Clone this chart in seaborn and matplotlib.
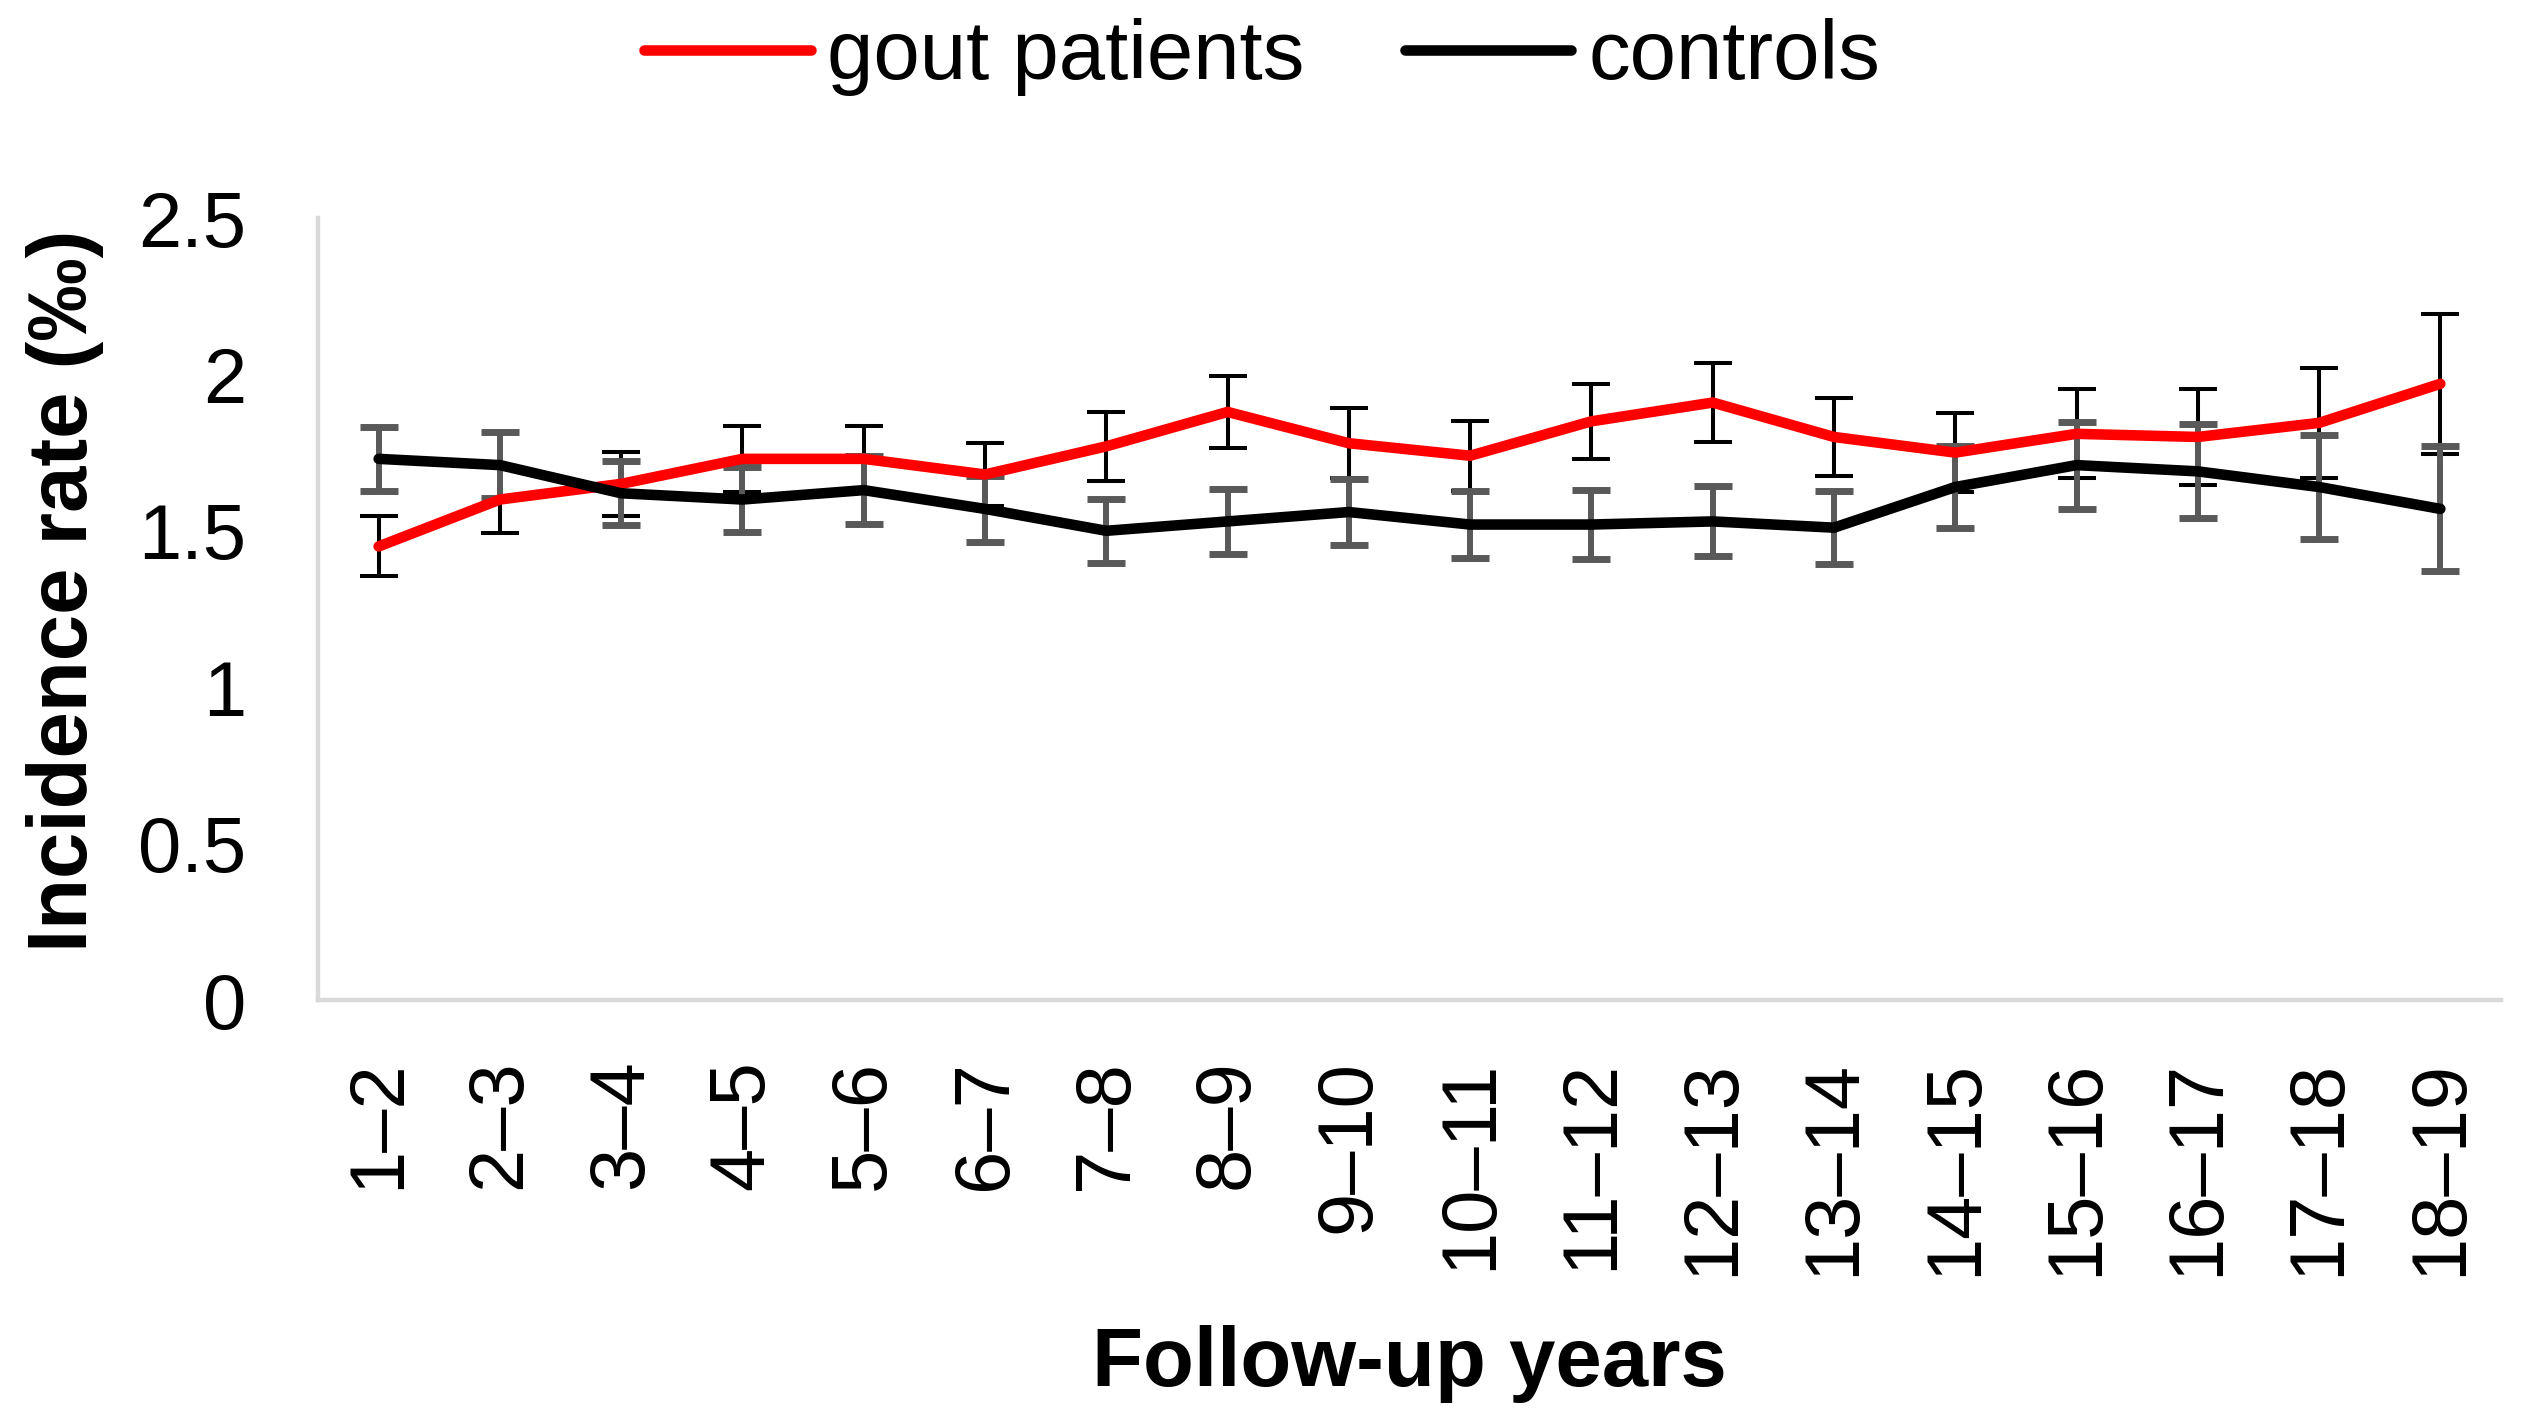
import matplotlib
matplotlib.use("Agg")
import matplotlib.pyplot as plt
import seaborn as sns
import pandas as pd
import numpy as np

# ---- data ----
periods = ["1–2", "2–3", "3–4", "4–5", "5–6", "6–7", "7–8", "8–9", "9–10",
           "10–11", "11–12", "12–13", "13–14", "14–15", "15–16", "16–17",
           "17–18", "18–19"]
gout = [1.45, 1.60, 1.65, 1.73, 1.73, 1.68, 1.77, 1.88, 1.78, 1.74, 1.85,
        1.91, 1.80, 1.75, 1.81, 1.80, 1.845, 1.97]
gout_err = [0.096, 0.106, 0.102, 0.105, 0.106, 0.102, 0.110, 0.114, 0.112,
            0.112, 0.120, 0.125, 0.126, 0.126, 0.142, 0.152, 0.176, 0.224]
controls = [1.73, 1.71, 1.62, 1.60, 1.63, 1.57, 1.50, 1.53, 1.56, 1.52, 1.52,
            1.53, 1.51, 1.64, 1.71, 1.69, 1.64, 1.57]
controls_err = [0.103, 0.105, 0.103, 0.103, 0.108, 0.105, 0.103, 0.105, 0.106,
                0.107, 0.109, 0.112, 0.117, 0.130, 0.139, 0.150, 0.166, 0.200]
series_names = ["gout patients", "controls"]
yticks = [0, 0.5, 1, 1.5, 2, 2.5]
ytick_labels = ["0", "0.5", "1", "1.5", "2", "2.5"]

sns.set_theme(style="white")
plt.rcParams["font.family"] = ["Liberation Sans", "DejaVu Sans"]
plt.rcParams["text.color"] = "black"
plt.rcParams["axes.labelcolor"] = "black"
plt.rcParams["xtick.color"] = "black"
plt.rcParams["ytick.color"] = "black"

idx = np.arange(len(periods))
df = pd.DataFrame({
    "pos": np.concatenate([idx, idx]),
    "rate": gout + controls,
    "group": [series_names[0]] * len(periods) + [series_names[1]] * len(periods),
})

fig = plt.figure(figsize=(25.24, 14.26), dpi=100)
ax = fig.add_axes([318 / 2524, 1 - 1000 / 1426, (2501 - 318) / 2524, (1000 - 218) / 1426])

# error bars (behind lines)
ax.errorbar(idx, gout, yerr=gout_err, fmt="none", ecolor="black",
            elinewidth=2.9, capsize=14, capthick=2.9, zorder=2)
ax.errorbar(idx, controls, yerr=controls_err, fmt="none", ecolor="#595959",
            elinewidth=4.3, capsize=14, capthick=5, zorder=2.5)

sns.lineplot(data=df, x="pos", y="rate", hue="group", hue_order=series_names,
             palette={"gout patients": "#ff0000", "controls": "#000000"},
             linewidth=7.6, ax=ax, sort=False, zorder=3, legend=True)
for ln in ax.lines:
    ln.set_solid_capstyle("round")
    ln.set_solid_joinstyle("miter")

ax.set_xlim(-0.5, len(periods) - 0.5)
ax.set_ylim(0, 2.5)
ax.set_yticks(yticks)
ax.set_yticklabels(ytick_labels)
ax.set_xticks(idx)
ax.set_xticklabels(periods, rotation=90, ha="center", va="top")
ax.tick_params(axis="both", length=0, labelsize=56, colors="black", labelcolor="black")
ax.tick_params(axis="y", pad=52)
ax.tick_params(axis="x", pad=43)

for s in ["top", "right"]:
    ax.spines[s].set_visible(False)
for s in ["left", "bottom"]:
    ax.spines[s].set_color("#d9d9d9")
    ax.spines[s].set_linewidth(3.2)
ax.grid(False)

ax.set_xlabel("Follow-up years", fontsize=60, fontweight="bold", color="black")
ax.xaxis.set_label_coords(0.5, -(1364 - 1000) / 782)
ax.xaxis.label.set_va("center")
ax.set_ylabel("Incidence rate (‰)", fontsize=60, fontweight="bold", color="black")
ax.yaxis.set_label_coords(-(318 - 65) / 2183, (1000 - 591) / 782)
ax.yaxis.label.set_va("center")

handles, labels = ax.get_legend_handles_labels()
if ax.get_legend():
    ax.get_legend().remove()
leg = fig.legend(handles, labels, loc="center", bbox_to_anchor=(0.500, 1 - 57 / 1426),
                 ncol=2, frameon=False, fontsize=60, handlelength=2.0,
                 handletextpad=0.2, columnspacing=1.2, labelcolor="black")
for h in leg.get_lines():
    h.set_linewidth(7.6)

fig.savefig("out.png", dpi=100, facecolor="white")
